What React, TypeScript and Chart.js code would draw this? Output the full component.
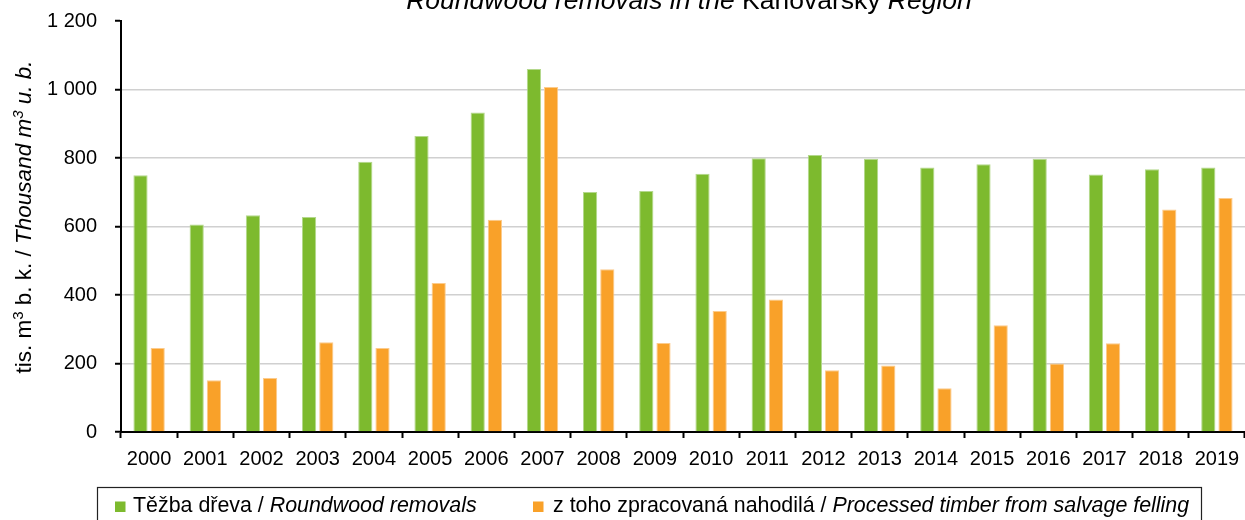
import React, { useEffect, useRef } from "react";
import { Chart, registerables } from "chart.js";

Chart.register(...registerables);

const years = ["2000","2001","2002","2003","2004","2005","2006","2007","2008","2009","2010","2011","2012","2013","2014","2015","2016","2017","2018","2019"];
const roundwoodRemovals = [750, 606, 633, 628, 789, 864, 933, 1060, 701, 704, 754, 799, 809, 798, 772, 782, 798, 752, 767, 772];
const salvageFelling = [245, 151, 158, 262, 245, 435, 620, 1007, 475, 260, 353, 387, 180, 194, 128, 312, 200, 259, 650, 683];
const yMin = 0;
const yMax = 1200;
const yStep = 200;

const titleParts = [
  { text: "Roundwood removals in the ", italic: true },
  { text: "Karlovarský ", italic: false },
  { text: "Region", italic: true },
];
const yTitleParts = [
  { text: "tis. m", italic: false },
  { text: "3", italic: false, sup: true },
  { text: " b. k. / ", italic: false },
  { text: "Thousand m", italic: true },
  { text: "3", italic: true, sup: true },
  { text: " u. b.", italic: true },
];
const legendItems = [
  { color: "#7DBA2E", parts: [{ text: "Těžba dřeva / ", italic: false }, { text: "Roundwood removals", italic: true }] },
  { color: "#F9A129", parts: [{ text: "z toho zpracovaná nahodilá / ", italic: false }, { text: "Processed timber from salvage felling", italic: true }] },
];

const FAMILY = '"Liberation Sans", Arial, sans-serif';

type Part = { text: string; italic: boolean; sup?: boolean };

function fontFor(p: Part, size: number) {
  const s = p.sup ? Math.round(size * 0.68) : size;
  return `${p.italic ? "italic " : ""}${s}px ${FAMILY}`;
}

function measureParts(ctx: CanvasRenderingContext2D, parts: Part[], size: number) {
  let w = 0;
  for (const p of parts) {
    ctx.font = fontFor(p, size);
    w += ctx.measureText(p.text).width;
  }
  return w;
}

function drawParts(ctx: CanvasRenderingContext2D, parts: Part[], size: number, x: number, y: number) {
  let cx = x;
  ctx.textAlign = "left";
  ctx.textBaseline = "alphabetic";
  for (const p of parts) {
    ctx.font = fontFor(p, size);
    ctx.fillText(p.text, cx, p.sup ? y - size * 0.36 : y);
    cx += ctx.measureText(p.text).width;
  }
}

const decorPlugin = {
  id: "decor",
  afterDraw(chart: any) {
    const ctx: CanvasRenderingContext2D = chart.ctx;
    ctx.save();
    ctx.fillStyle = "#000";
    // Title
    const tSize = 26.5;
    const tw = measureParts(ctx, titleParts, tSize);
    drawParts(ctx, titleParts, tSize, 689 - tw / 2, 9);
    // Y-axis title
    const ySize = 22.5;
    const yw = measureParts(ctx, yTitleParts, ySize);
    ctx.save();
    ctx.translate(31, 217);
    ctx.rotate(-Math.PI / 2);
    drawParts(ctx, yTitleParts, ySize, -yw / 2, 0);
    ctx.restore();
    // Legend box
    ctx.strokeStyle = "#222";
    ctx.lineWidth = 1.2;
    ctx.strokeRect(97.5, 487.5, 1104, 40);
    const lSize = 21.4;
    const itemX = [115, 533];
    const textX = [133, 553];
    legendItems.forEach((item, i) => {
      ctx.fillStyle = item.color;
      ctx.fillRect(itemX[i], 501.5, 10.5, 10.5);
      ctx.fillStyle = "#000";
      drawParts(ctx, item.parts, lSize, textX[i], 512);
    });
    ctx.restore();
  },
};

function formatTick(v: number) {
  return String(v).replace(/\B(?=(\d{3})+(?!\d))/g, " ");
}

export default function App() {
  const ref = useRef<HTMLCanvasElement | null>(null);
  useEffect(() => {
    if (!ref.current) return;
    const chart = new Chart(ref.current, {
      type: "bar",
      data: {
        labels: years,
        datasets: [
          {
            label: "Těžba dřeva / Roundwood removals",
            data: roundwoodRemovals,
            backgroundColor: "#7DBA2E",
            borderColor: "#B4D88C",
            borderWidth: 1,
            barPercentage: 0.826,
            categoryPercentage: 0.612,
          },
          {
            label: "z toho zpracovaná nahodilá / Processed timber from salvage felling",
            data: salvageFelling,
            backgroundColor: "#F9A129",
            borderColor: "#FCCB8C",
            borderWidth: 1,
            barPercentage: 0.826,
            categoryPercentage: 0.612,
          },
        ],
      },
      options: {
        responsive: false,
        animation: false,
        devicePixelRatio: 1,
        layout: { padding: { top: 21, left: 0, right: 0, bottom: 0 } },
        plugins: {
          legend: { display: false },
          title: { display: false },
          tooltip: { enabled: false },
        },
        scales: {
          x: {
            grid: {
              offset: true,
              drawOnChartArea: false,
              drawTicks: true,
              tickLength: 6,
              tickColor: "#000",
              tickWidth: 2,
            },
            border: { display: true, color: "#000", width: 2 },
            ticks: {
              color: "#000",
              font: { family: FAMILY, size: 20 },
              padding: 9,
              maxRotation: 0,
              autoSkip: false,
            },
            afterFit(scale: any) {
              scale.height = 88;
              scale.paddingLeft = 0;
              scale.paddingRight = 0;
            },
          },
          y: {
            min: yMin,
            max: yMax,
            grid: {
              color: (c: any) => (c.tick && (c.tick.value === yMax || c.tick.value === yMin) ? "rgba(0,0,0,0)" : "#D0D0D0"),
              lineWidth: 1.5,
              tickLength: 6,
              tickColor: "#000",
              tickWidth: 2,
            },
            border: { display: true, color: "#000", width: 2 },
            ticks: {
              stepSize: yStep,
              color: "#000",
              font: { family: FAMILY, size: 20 },
              padding: 18,
              callback: (v: any) => formatTick(Number(v)),
            },
            afterFit(scale: any) {
              scale.width = 121;
              scale.paddingTop = 0;
              scale.paddingBottom = 0;
            },
          },
        },
      },
      plugins: [decorPlugin],
    });
    return () => chart.destroy();
  }, []);
  return (
    <div style={{ position: "absolute", left: 0, top: 0, width: 1245, height: 520, background: "#fff" }}>
      <canvas ref={ref} width={1245} height={520} style={{ display: "block", width: 1245, height: 520 }} />
    </div>
  );
}
